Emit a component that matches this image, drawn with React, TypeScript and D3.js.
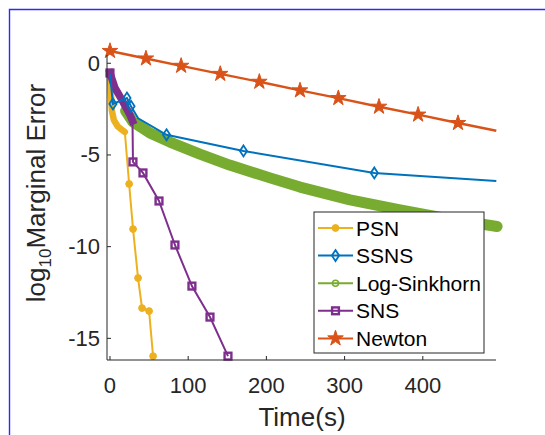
import React from "react";
import * as d3 from "d3";

// Axis ticks
const timeTicks = [0, 100, 200, 300, 400];
const errorTicks = [0, -5, -10, -15];

const seriesNames = ["PSN", "SSNS", "Log-Sinkhorn", "SNS", "Newton"];
const seriesColors = ["#EDB120", "#0072BD", "#77AC30", "#7E2F8E", "#D95319"];

// PSN: early iterations are packed tightly, then a few long steps
const psnBurstTime = [0, 1, 2.5, 5, 10, 16, 19];
const psnBurstError = [-0.5, -1.5, -2.6, -3.1, -3.45, -3.65, -3.75];
const psnTime = [19, 24.5, 29.5, 35.9, 41, 50, 55.1];
const psnError = [-3.75, -6.58, -9.04, -11.71, -13.35, -13.51, -15.97];

// SSNS
const ssnsTime = [0, 3.8, 21.7, 26.9, 36, 72.3, 170.7, 338, 494];
const ssnsError = [-0.6, -2.22, -1.9, -2.35, -3.0, -3.9, -4.78, -5.98, -6.42];
const ssnsMarked = [false, true, true, true, false, true, true, true, false];

// Log-Sinkhorn: markers so dense they merge into a band
const sinkTime = [20, 29.4, 51, 76.7, 115, 153, 204.6, 243, 307, 371, 435, 495];
const sinkError = [-2.6, -3.2, -3.8, -4.3, -4.95, -5.55, -6.25, -6.75, -7.45, -8.0, -8.5, -8.9];

// SNS
const snsBurstTime = [0, 6.4, 15.3, 25.6, 28.8];
const snsBurstError = [-0.53, -1.35, -2.0, -2.82, -3.15];
const snsTime = [28.8, 29.4, 42.2, 62.7, 83.1, 104.8, 127.9, 150.9];
const snsError = [-3.15, -5.38, -5.98, -7.51, -9.91, -12.15, -13.84, -15.97];

// Newton
const newtonTime = [0, 46, 91, 141, 191, 243, 292, 344, 394, 445, 494];
const newtonError = [0.67, 0.26, -0.14, -0.58, -1.01, -1.48, -1.9, -2.37, -2.8, -3.26, -3.68];

const W = 545;
const H = 435;
const FONT = "'Liberation Sans', Arial, Helvetica, sans-serif";
const AXIS = "#262626";

const x = d3.scaleLinear().domain([-3.8, 493.6]).range([107, 496]);
const y = d3.scaleLinear().domain([-16.18, 0.45]).range([360, 55]);

const zip = (ts: number[], vs: number[]) => ts.map((t, i) => [t, vs[i]] as [number, number]);
const line = d3
  .line<[number, number]>()
  .x((d) => x(d[0]))
  .y((d) => y(d[1]));

const starPath = d3.symbol(d3.symbolStar, 75)() as string;
const diamondPath = "M0,-5.5L3.6,0L0,5.5L-3.6,0Z";

function Marker({ kind, cx, cy, color }: { kind: string; cx: number; cy: number; color: string }) {
  if (kind === "circle") return <circle cx={cx} cy={cy} r={3.4} fill={color} stroke={color} strokeWidth={1} />;
  if (kind === "ring") return <circle cx={cx} cy={cy} r={3} fill="none" stroke={color} strokeWidth={1.5} />;
  if (kind === "diamond")
    return <path d={diamondPath} transform={`translate(${cx},${cy})`} fill="none" stroke={color} strokeWidth={1.8} />;
  if (kind === "square")
    return <rect x={cx - 3.4} y={cy - 3.4} width={6.8} height={6.8} fill="none" stroke={color} strokeWidth={2.4} />;
  return <path d={starPath} transform={`translate(${cx},${cy})`} fill={color} stroke={color} strokeWidth={1} />;
}

const markerKinds = ["circle", "diamond", "ring", "square", "star"];

export default function App() {
  const [cPSN, cSSNS, cSink, cSNS, cNewton] = seriesColors;
  const legendX = 314;
  const legendY = 212;
  const rowH = 27.6;

  return (
    <svg
      width={W}
      height={H}
      style={{ position: "fixed", left: 0, top: 0, background: "#fff" }}
      fontFamily={FONT}
    >
      <rect x={0} y={0} width={W} height={H} fill="#fff" />
      {/* outer frame */}
      <path d={`M9.5,${H}V9.5H${W}`} fill="none" stroke="#2a2aff" strokeWidth={1.4} />

      {/* Log-Sinkhorn */}
      <path
        d={line(zip(sinkTime, sinkError)) as string}
        fill="none"
        stroke={cSink}
        strokeWidth={11}
        strokeLinecap="round"
        strokeLinejoin="round"
      />

      {/* PSN */}
      <path
        d={line(zip(psnBurstTime, psnBurstError)) as string}
        fill="none"
        stroke={cPSN}
        strokeWidth={6.5}
        strokeLinecap="round"
        strokeLinejoin="round"
      />
      <path d={line(zip(psnTime, psnError)) as string} fill="none" stroke={cPSN} strokeWidth={2} />
      {psnTime.slice(1).map((t, i) => (
        <Marker key={i} kind="circle" cx={x(t)} cy={y(psnError[i + 1])} color={cPSN} />
      ))}

      {/* SNS */}
      <path
        d={line(zip(snsBurstTime, snsBurstError)) as string}
        fill="none"
        stroke={cSNS}
        strokeWidth={7.5}
        strokeLinecap="square"
        strokeLinejoin="round"
      />
      <path d={line(zip(snsTime, snsError)) as string} fill="none" stroke={cSNS} strokeWidth={2} />
      <Marker kind="square" cx={x(snsBurstTime[0])} cy={y(snsBurstError[0])} color={cSNS} />
      {snsTime.slice(1).map((t, i) => (
        <Marker key={i} kind="square" cx={x(t)} cy={y(snsError[i + 1])} color={cSNS} />
      ))}

      {/* SSNS */}
      <path d={line(zip(ssnsTime, ssnsError)) as string} fill="none" stroke={cSSNS} strokeWidth={2} />
      {ssnsTime.map((t, i) =>
        ssnsMarked[i] ? <Marker key={i} kind="diamond" cx={x(t)} cy={y(ssnsError[i])} color={cSSNS} /> : null
      )}

      {/* Newton */}
      <path d={line(zip(newtonTime, newtonError)) as string} fill="none" stroke={cNewton} strokeWidth={2.4} />
      {newtonTime.slice(0, -1).map((t, i) => (
        <Marker key={i} kind="star" cx={x(t)} cy={y(newtonError[i])} color={cNewton} />
      ))}

      {/* axes */}
      <g stroke={AXIS} strokeWidth={1} fill="none">
        <path d={`M${x.range()[0]},${y.range()[1]}V${y.range()[0]}H${x.range()[1]}`} />
        {timeTicks.map((t) => (
          <path key={t} d={`M${x(t)},${y.range()[0]}v-4`} />
        ))}
        {errorTicks.map((v) => (
          <path key={v} d={`M${x.range()[0]},${y(v)}h4`} />
        ))}
      </g>
      <g fill={AXIS} fontSize={22}>
        {timeTicks.map((t) => (
          <text key={t} x={x(t)} y={393} textAnchor="middle">
            {t}
          </text>
        ))}
        {errorTicks.map((v) => (
          <text key={v} x={100} y={y(v)} textAnchor="end" dominantBaseline="central">
            {v === 0 ? "0" : `-${Math.abs(v)}`}
          </text>
        ))}
      </g>
      <text x={302} y={426} textAnchor="middle" fontSize={26} fill={AXIS}>
        Time(s)
      </text>
      <text transform={`translate(45,193) rotate(-90)`} textAnchor="middle" fontSize={26} fill={AXIS}>
        <tspan>log</tspan>
        <tspan fontSize={17} dy={6}>
          10
        </tspan>
        <tspan dy={-6}>Marginal Error</tspan>
      </text>

      {/* legend */}
      <rect x={legendX} y={legendY} width={170} height={141} fill="#fff" stroke={AXIS} strokeWidth={1} />
      {seriesNames.map((name, i) => {
        const cy = legendY + 16 + i * rowH;
        return (
          <g key={name}>
            <line x1={legendX + 4} x2={legendX + 39} y1={cy} y2={cy} stroke={seriesColors[i]} strokeWidth={2} />
            <Marker kind={markerKinds[i]} cx={legendX + 21.5} cy={cy} color={seriesColors[i]} />
            <text x={legendX + 42} y={cy} dominantBaseline="central" fontSize={21} fill="#000">
              {name}
            </text>
          </g>
        );
      })}
    </svg>
  );
}
